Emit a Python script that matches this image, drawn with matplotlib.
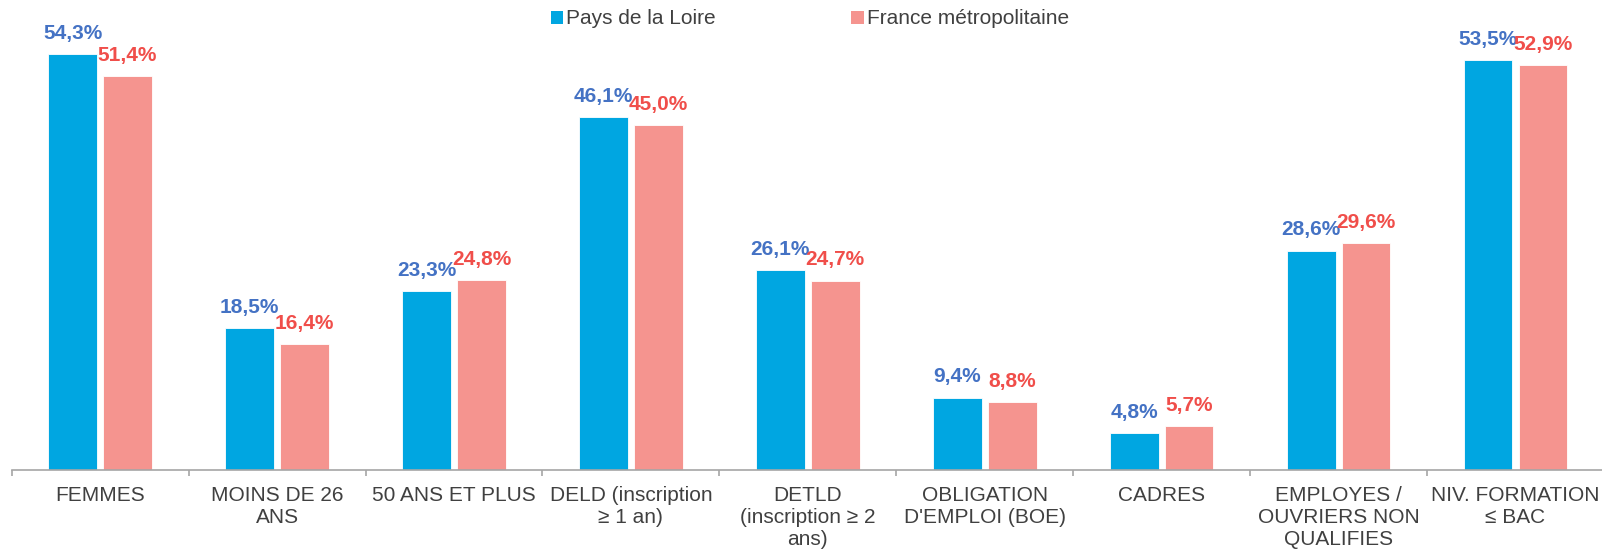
import matplotlib
matplotlib.use("Agg")
import matplotlib.pyplot as plt
from matplotlib.patches import Patch
import numpy as np

plt.rcParams['font.family'] = ['Liberation Sans', 'DejaVu Sans']

categories = ["FEMMES", "MOINS DE 26\nANS", "50 ANS ET PLUS", "DELD (inscription\n≥ 1 an)",
              "DETLD\n(inscription ≥ 2\nans)", "OBLIGATION\nD'EMPLOI (BOE)", "CADRES",
              "EMPLOYES /\nOUVRIERS NON\nQUALIFIES", "NIV. FORMATION\n≤ BAC"]
series_names = ["Pays de la Loire", "France métropolitaine"]
pays_loire = [54.3, 18.5, 23.3, 46.1, 26.1, 9.4, 4.8, 28.6, 53.5]
france_metro = [51.4, 16.4, 24.8, 45.0, 24.7, 8.8, 5.7, 29.6, 52.9]

W, H = 1602, 552
fig = plt.figure(figsize=(W / 100, H / 100), dpi=100)
ax_left, ax_right = 11.7, 1604
ax_bottom_px = 469.5
ymax = 60
px_per_unit = 7.65
ax = fig.add_axes([ax_left / W, (H - ax_bottom_px) / H, (ax_right - ax_left) / W,
                   ymax * px_per_unit / H])

blue, pink = '#00A6E1', '#F5948F'
blue_txt, red_txt = '#4472C4', '#F04E4A'
x = np.arange(len(categories))
bw = 0.275
off = 0.155
b1 = ax.bar(x - off, pays_loire, bw, color=blue, edgecolor='white', linewidth=0.6)
b2 = ax.bar(x + off, france_metro, bw, color=pink, edgecolor='white', linewidth=0.6)

for rects, vals, col in ((b1, pays_loire, blue_txt), (b2, france_metro, red_txt)):
    for r, v in zip(rects, vals):
        ax.annotate(f"{v:.1f}".replace('.', ',') + '%',
                    (r.get_x() + r.get_width() / 2, v), xytext=(0, 11),
                    textcoords='offset points', ha='center', va='baseline',
                    fontsize=15, fontweight='bold', color=col)

ax.set_xlim(-0.5, len(categories) - 0.5)
ax.set_ylim(0, ymax)
for s in ('left', 'right', 'top'):
    ax.spines[s].set_visible(False)
ax.spines['bottom'].set_color('#A6A6A6')
ax.spines['bottom'].set_linewidth(1.2)
ax.set_yticks([])
ax.set_xticks(x)
ax.set_xticklabels(categories, fontsize=15, color='#404040', linespacing=1.18)
ax.tick_params(axis='x', which='major', length=0, pad=12.2)
ax.set_xticks(np.arange(len(categories) + 1) - 0.5, minor=True)
ax.tick_params(axis='x', which='minor', length=4.5, width=1.2, color='#A6A6A6', direction='out')

handles = [Patch(facecolor=blue, label=series_names[0]), Patch(facecolor=pink, label=series_names[1])]
fig.legend(handles=handles, loc='center', bbox_to_anchor=(810 / W, 1 - 19 / H), ncol=2,
           frameon=False, fontsize=15, handlelength=0.6, handleheight=0.6,
           handletextpad=0.15, columnspacing=6.5, labelcolor='#404040')

fig.savefig('out.png', dpi=100)
